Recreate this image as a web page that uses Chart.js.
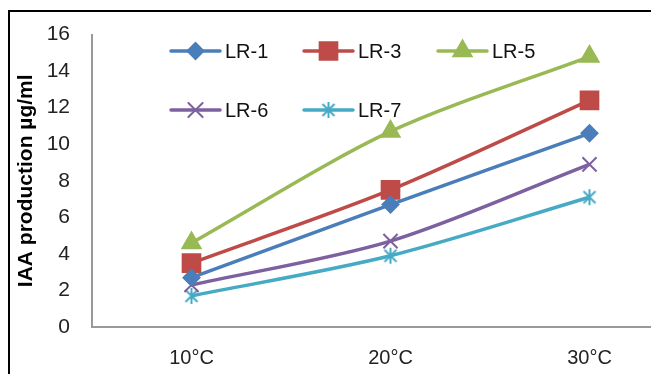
<!DOCTYPE html>
<html>
<head>
<meta charset="utf-8">
<script src="https://cdn.jsdelivr.net/npm/chart.js@4.4.0/dist/chart.umd.min.js"></script>
<style>
  body { margin: 0; background: #fff; overflow: hidden; width: 651px; height: 374px; position: relative; }
  #frame { position: absolute; left: 8px; top: 10px; width: 700px; height: 400px; border-top: 2px solid #000; border-left: 2px solid #000; }
  #c { position: absolute; left: 0; top: 0; }
</style>
</head>
<body>
<div id="frame"></div>
<canvas id="c" width="720" height="374"></canvas>
<script>
// data
const temps = ['10°C', '20°C', '30°C'];
const lr1 = [2.7, 6.7, 10.6];
const lr3 = [3.5, 7.5, 12.4];
const lr5 = [4.6, 10.7, 14.8];
const lr6 = [2.3, 4.7, 8.9];
const lr7 = [1.7, 3.9, 7.1];
const yTicks = [0, 2, 4, 6, 8, 10, 12, 14, 16];

const FONT = "'Liberation Sans', Arial, sans-serif";

// excel style star marker: vertical bar + x
function starMarker(color) {
  const s = 18, c = document.createElement('canvas');
  c.width = s; c.height = s;
  const g = c.getContext('2d');
  g.strokeStyle = color; g.lineWidth = 2;
  g.beginPath();
  g.moveTo(s/2, 1); g.lineTo(s/2, s-1);
  g.moveTo(3, 3); g.lineTo(s-3, s-3);
  g.moveTo(s-3, 3); g.lineTo(3, s-3);
  g.stroke();
  return c;
}

function ds(label, data, color, style, radius) {
  return {
    label, data,
    borderColor: color, backgroundColor: color,
    pointBackgroundColor: color, pointBorderColor: color,
    borderWidth: 3.5, pointStyle: style, pointRadius: radius, pointHoverRadius: radius,
    pointBorderWidth: 2, tension: 0.3
  };
}

const datasets = [
  ds('LR-1', lr1, '#4A7EBB', 'rectRot', 8),
  ds('LR-3', lr3, '#BE4B48', 'rect', 12.5),
  ds('LR-5', lr5, '#98B954', 'triangle', 10.5),
  ds('LR-6', lr6, '#7D60A0', 'crossRot', 10),
  ds('LR-7', lr7, '#46AAC5', starMarker('#46AAC5'), 9)
];

// legend drawn inside the plot, 3 + 2 layout
const legendSlots = [[171, 51], [304, 51], [438, 51], [171, 110], [304, 110]];
const insideLegend = {
  id: 'insideLegend',
  afterDatasetsDraw(chart) {
    const ctx = chart.ctx;
    chart.data.datasets.forEach((d, i) => {
      const [x, y] = legendSlots[i];
      ctx.save();
      ctx.strokeStyle = d.borderColor; ctx.lineWidth = 3.5; ctx.lineCap = 'round';
      ctx.beginPath(); ctx.moveTo(x, y); ctx.lineTo(x + 49, y); ctx.stroke();
      ctx.fillStyle = d.backgroundColor; ctx.strokeStyle = d.borderColor; ctx.lineWidth = 2;
      Chart.helpers.drawPoint(ctx, { pointStyle: d.pointStyle, radius: d.pointRadius, rotation: 0, borderWidth: 2 }, x + 24.5, y);
      ctx.fillStyle = '#111'; ctx.font = '20px ' + FONT; ctx.textBaseline = 'middle';
      ctx.fillText(d.label, x + 54, y + 1);
      ctx.restore();
    });
  }
};

new Chart(document.getElementById('c'), {
  type: 'line',
  data: { labels: temps, datasets },
  options: {
    responsive: false, animation: false,
    layout: { padding: { left: 0, top: 30, right: 31, bottom: 0 } },
    plugins: { legend: { display: false }, tooltip: { enabled: false } },
    scales: {
      x: {
        offset: true,
        grid: { display: false, drawTicks: false },
        border: { display: true, color: '#999', width: 2 },
        ticks: { color: '#222', font: { family: FONT, size: 20 }, padding: 19, maxRotation: 0 },
        afterFit: s => { s.height = 47; }
      },
      y: {
        min: 0, max: 16,
        afterBuildTicks: s => { s.ticks = yTicks.map(v => ({ value: v })); },
        grid: { display: false, drawTicks: false },
        border: { display: true, color: '#999', width: 2 },
        ticks: { color: '#222', font: { family: FONT, size: 21 }, padding: 22 },
        title: { display: true, text: 'IAA production µg/ml', color: '#000',
                 font: { family: FONT, size: 21, weight: 'bold' }, padding: { top: 14, bottom: 0 } },
        afterFit: s => { s.width = 92; }
      }
    }
  },
  plugins: [insideLegend]
});
</script>
</body>
</html>
